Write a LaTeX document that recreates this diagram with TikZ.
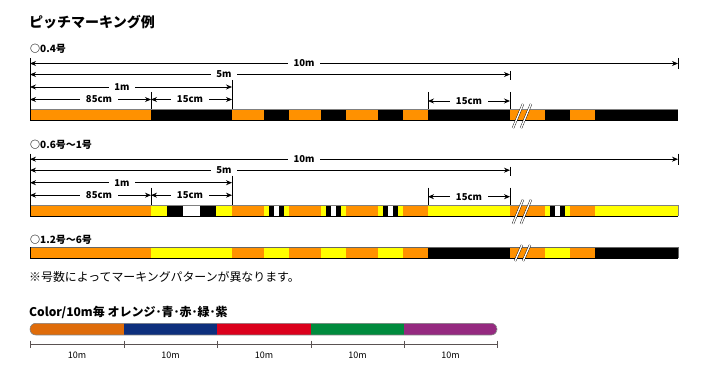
\documentclass[tikz,border=0pt]{standalone}
\usepackage{fontspec}
\usepackage{tikz}
\usetikzlibrary{arrows.meta}
\newfontfamily\jp{Noto Sans CJK JP}
\definecolor{mkorange}{HTML}{FF9100}
\definecolor{mkyellow}{HTML}{FFFF00}
\definecolor{corange}{HTML}{DF6C0A}
\definecolor{cblue}{HTML}{0D2F7D}
\definecolor{cred}{HTML}{DB001C}
\definecolor{cgreen}{HTML}{008B3D}
\definecolor{cpurple}{HTML}{952A80}
\definecolor{scalegray}{HTML}{5A5252}
\tikzset{
 dim/.style={{Stealth[length=6pt,width=5pt]}-{Stealth[length=6pt,width=5pt]},line width=.8pt},
 ext/.style={line width=.7pt},
 dimlabel/.style={fill=white,inner xsep=5.5pt,inner ysep=1.3pt,font=\jp\bfseries\fontsize{9.5}{10}\selectfont},
 head/.style={anchor=west,inner sep=0pt,font=\jp\bfseries\fontsize{10}{11}\selectfont},
 brk/.style={draw=black,line width=.4pt,double=white,double distance=1.4pt},
 scaleline/.style={scalegray,line width=.9pt},
}
\begin{document}
\begin{tikzpicture}[x=1pt,y=-1pt]
\useasboundingbox(0,0)rectangle(711,390);
\node[head,font=\jp\bfseries\fontsize{14}{16}\selectfont](title)at(29,22){ピッチマーキング例};
\node[head](s1)at(30,49){○0.4号};
\node[head](s2)at(30,145){○0.6号～1号};
\node[head](s3)at(30,240){○1.2号～6号};
\node[head,font=\jp\fontsize{11.9}{13}\selectfont](note)at(29,277){※号数によってマーキングパターンが異なります。};
% bar 1
\fill[mkorange](30,109)rectangle(678,121);
\foreach \a/\b in {151/232,264/289,321/346,378/403,428/510,545/570,595/678}
 \fill[black](\a,109)rectangle(\b,121);
\draw[gray](30,109.3)--(678,109.3);
\draw(30,120.7)--(678,120.7);
% bar 2
\fill[mkorange](30,204.7)rectangle(678,216);
\foreach \a/\b in {428/510,595/678}\fill[mkyellow](\a,204.7)rectangle(\b,216);
\foreach \a/\b in {151/232,264/289,321/346,378/403,545/570}{
 \foreach \i/\c in {0/mkyellow,1/black,2/white,3/black,4/mkyellow}
  \fill[\c]({\a+\i*(\b-\a)/5},204.7)rectangle({\a+(\i+1)*(\b-\a)/5},216);}
\draw[gray](30,205)--(678,205)--(678,216);
\draw(30,215.7)--(678,215.7);
% bar 3
\fill[mkorange](30,247.3)rectangle(678,258.3);
\foreach \a/\b in {151/232,264/289,321/346,378/403,545/570}\fill[mkyellow](\a,247.3)rectangle(\b,258.3);
\foreach \a/\b in {428/510,595/678}\fill[black](\a,247.3)rectangle(\b,258.3);
\draw[gray!80!black](30,247.6)--(678,247.6)--(678,258.3);
\draw(30,258)--(678,258);
\draw(30,247.3)--(30,258.3);
% dimensions of the first two bars
\foreach \dy in {0,95.7}{
\begin{scope}[yshift=-\dy pt]
\foreach \x/\ya/\yb in {30/58/121,678/58/69,510/71/80,232/80/109,151/92/109,428/92/109,510/92/109}{
 \coordinate(u)at(\x,\ya);\coordinate(v)at(\x,\yb);
 \draw[ext](u)--(v);}
\foreach \y/\xa/\xb/\lx/\t in {63.5/30/678/304/10m,74.5/30/510/224/5m,87/30/232/122/1m,99.5/30/151/99/85cm,99.5/151/232/190/15cm,101/428/510/469/15cm}{
 \coordinate(l)at(\xa,\y);\coordinate(r)at(\xb,\y);
 \draw[dim](l)--(r);
 \node[dimlabel](t)at(\lx,\y){\t};}
\draw[brk](513,128)--(523,104);
\draw[brk](521,128)--(531,104);
\end{scope}}
\draw[brk](515,261)--(522,245);
\draw[brk](523,261)--(530,245);
% colours, 10m each
\node[head,font=\jp\bfseries\fontsize{12}{14}\selectfont](ctitle)at(29,312.7){Color/10m毎 オレンジ･青･赤･緑･紫};
\begin{scope}
\clip[rounded corners=5.8pt](30,323.3)rectangle(497,335);
\foreach \a/\b/\c in {30/124/corange,124/217/cblue,217/311/cred,311/404/cgreen,404/497/cpurple}
 \fill[\c](\a,323.3)rectangle(\b,335);
\end{scope}
\draw[gray,line width=.6pt,rounded corners=5.8pt](30,323.3)rectangle(497,335);
\coordinate(sa)at(30,344.3);\coordinate(sb)at(497,344.3);
\draw[scaleline](sa)--(sb);
\foreach \x in {30,124,217,311,404,497}\draw[scaleline,line width=.6pt](\x,340.5)--(\x,348);
\foreach \x in {77,170.5,264,357.5,450.5}\node[font=\jp\fontsize{9}{9}\selectfont,inner sep=0pt](m)at(\x,355.5){10m};
\end{tikzpicture}
\end{document}
